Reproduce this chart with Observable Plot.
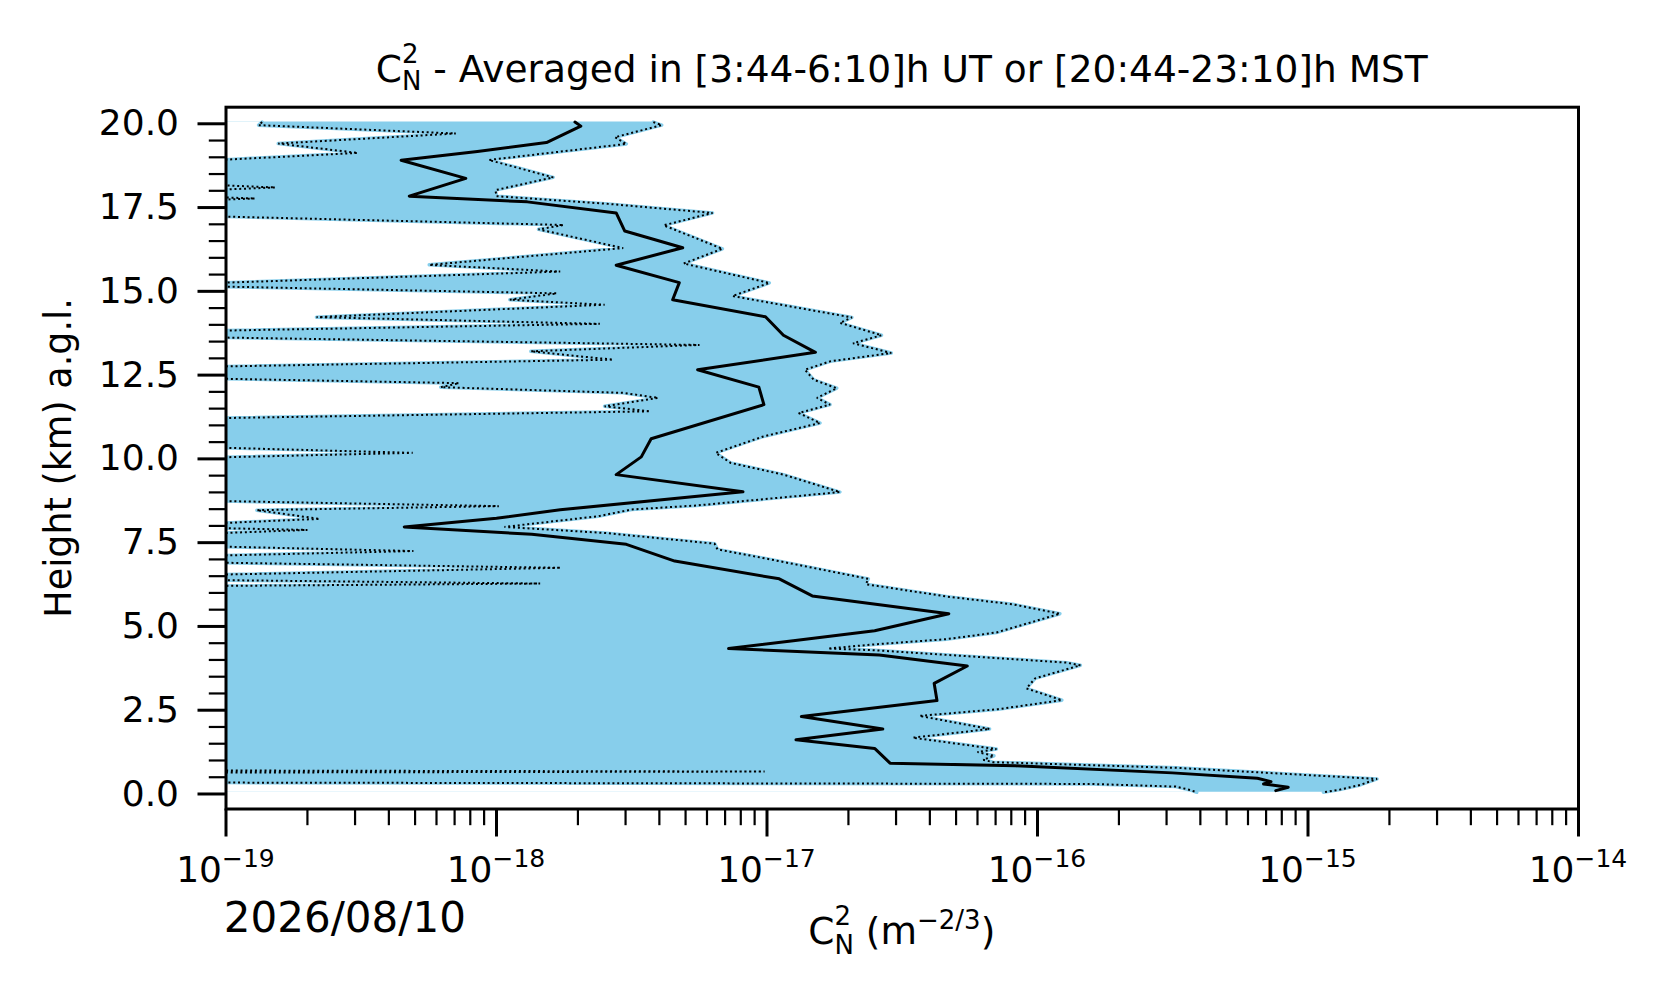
<!DOCTYPE html>
<html><head><meta charset="utf-8">
<script src="https://cdn.jsdelivr.net/npm/d3@7"></script>
<script src="https://cdn.jsdelivr.net/npm/@observablehq/plot@0.6"></script>
<style>
body{margin:0;background:#fff}
#chart svg{display:block}
text{white-space:pre}
</style></head><body><div id="chart"></div>
<script>
// ---- data (height in km a.g.l., Cn2 in m^-2/3) ----
const meanH = [20.05,19.93,19.44,19.17,18.91,18.37,17.84,17.67,17.34,16.80,16.30,15.78,15.26,14.75,14.24,13.69,13.18,12.66,12.14,11.62,10.60,10.06,9.53,9.02,8.48,8.23,7.97,7.75,7.45,6.95,6.42,5.91,5.38,4.87,4.57,4.34,4.15,3.82,3.30,2.79,2.31,1.94,1.62,1.36,0.92,0.84,0.63,0.47,0.37,0.30,0.20,0.10];
const meanV = [1.95e-18,2.05e-18,1.53e-18,8.5e-19,4.44e-19,7.7e-19,4.76e-19,1.3e-18,2.77e-18,2.98e-18,4.88e-18,2.77e-18,4.74e-18,4.48e-18,9.87e-18,1.15e-17,1.51e-17,5.54e-18,9.33e-18,9.74e-18,3.73e-18,3.43e-18,2.77e-18,8.15e-18,1.72e-18,1.0e-18,4.56e-19,1.35e-18,3.02e-18,4.56e-18,1.11e-17,1.47e-17,4.7e-17,2.5e-17,1.25e-17,7.21e-18,2.6e-17,5.5e-17,4.15e-17,4.25e-17,1.34e-17,2.68e-17,1.28e-17,2.50e-17,2.85e-17,8.3e-17,3.15e-16,6.5e-16,7.3e-16,6.85e-16,8.45e-16,7.6e-16];

const upperH = [20.05,19.96,19.60,19.40,18.92,18.40,18.02,17.84,17.61,17.34,16.97,16.27,15.83,15.25,14.86,14.22,14.06,13.69,13.45,13.16,12.91,12.66,12.36,12.11,11.82,11.62,11.37,11.07,10.67,10.18,9.88,9.53,9.01,8.61,8.49,8.29,7.97,7.79,7.47,7.30,7.00,6.42,6.26,5.89,5.66,5.38,5.11,4.82,4.62,4.47,4.34,4.29,3.92,3.84,3.45,3.15,2.80,2.53,2.33,1.94,1.68,1.34,1.25,1.14,1.02,0.95,0.87,0.78,0.45,0.27,0.13,0.05];
const upperV = [3.8e-18,4.08e-18,2.74e-18,3.02e-18,9.37e-19,1.62e-18,9.91e-19,1.0e-18,2.59e-18,6.29e-18,4.15e-18,6.84e-18,4.92e-18,1.02e-17,7.45e-18,2.06e-17,1.86e-17,2.65e-17,2.08e-17,2.88e-17,1.71e-17,1.38e-17,1.49e-17,1.81e-17,1.53e-17,1.71e-17,1.31e-17,1.57e-17,9.7e-18,6.46e-18,7.34e-18,1.15e-17,1.86e-17,5.5e-18,3.16e-18,2.38e-18,1.07e-18,2.51e-18,6.4e-18,6.56e-18,1.03e-17,2.37e-17,2.32e-17,4.65e-17,8.1e-17,1.21e-16,9.35e-17,7.05e-17,4.6e-17,2.54e-17,1.68e-17,2.5e-17,1.28e-16,1.44e-16,9.8e-17,9.1e-17,1.23e-16,7.15e-17,3.66e-17,6.65e-17,3.46e-17,7.05e-17,6.0e-17,6.9e-17,6.3e-17,6.85e-17,1.44e-16,3.27e-16,1.80e-15,1.56e-15,1.31e-15,1.14e-15];

// lower bound; values at or below the axis minimum are recorded as 1e-19
const lowerH = [20.05,19.96,19.71,19.41,19.13,18.93,18.16,18.10,18.04,17.80,17.77,17.74,17.23,16.98,16.85,16.29,15.79,15.59,15.26,15.14,14.94,14.75,14.60,14.23,14.03,13.83,13.62,13.40,13.21,12.96,12.76,12.39,12.26,12.14,11.97,11.82,11.57,11.42,11.22,10.33,10.18,10.05,8.74,8.59,8.47,8.21,8.09,7.93,7.88,7.79,7.38,7.25,7.12,6.90,6.75,6.55,6.38,6.28,6.21,0.70,0.67,0.64,0.34,0.30,0.22,0.12,0.05];
const lowerV = [1.36e-19,1.32e-19,7.07e-19,1.56e-19,3.07e-19,1e-19,1e-19,1.52e-19,1e-19,1e-19,1.28e-19,1e-19,1e-19,1.77e-18,1.43e-18,2.94e-18,5.64e-19,1.72e-18,1e-19,1e-19,1.67e-18,1.12e-18,2.51e-18,2.16e-19,2.41e-18,1e-19,1e-19,5.63e-18,1.34e-18,2.70e-18,1e-19,1e-19,7.27e-19,6.22e-19,2.94e-18,3.96e-18,2.51e-18,3.70e-18,1e-19,1e-19,4.9e-19,1e-19,1e-19,1.02e-18,1.30e-19,2.22e-19,1e-19,1e-19,2.0e-19,1e-19,1e-19,4.93e-19,1e-19,1e-19,1.73e-18,1e-19,1e-19,1.45e-18,1e-19,1e-19,9.8e-18,1e-19,1e-19,1.57e-16,3.25e-16,3.67e-16,3.88e-16];

const xMajorTicks = [1e-19,1e-18,1e-17,1e-16,1e-15,1e-14];
const xTickExponents = ["−19","−18","−17","−16","−15","−14"];
const xMinorDecades = [1e-19,1e-18,1e-17,1e-16,1e-15];
const xMinorMultipliers = [2,3,4,5,6,7,8,9];
const yMajorTicks = [0,2.5,5,7.5,10,12.5,15,17.5,20];
const yMinorTicks = [0.5,1,1.5,2,3,3.5,4,4.5,5.5,6,6.5,7,8,8.5,9,9.5,10.5,11,11.5,12,13,13.5,14,14.5,15.5,16,16.5,17,18,18.5,19,19.5];

const titleText = " - Averaged in [3:44-6:10]h UT or [20:44-23:10]h MST";
const yLabelText = "Height (km) a.g.l.";
const dateText = "2026/08/10";

// ---- build tables ----
const mean = meanH.map((h, i) => ({h, v: meanV[i]}));
const upper = upperH.map((h, i) => ({h, v: upperV[i]}));
const lower = lowerH.map((h, i) => ({h, v: lowerV[i]}));
const xMinorTicks = xMinorDecades.flatMap(d => xMinorMultipliers.map(m => d * m));
const FLOOR = 1e-19;
const FONT = "DejaVu Sans";
const SKY = "#87ceeb";
const ML = 225.5, MR = 98, MT = 106.7, MB = 194.5;
const CX = (ML + 1676 - MR) / 2;

const chart = Plot.plot({
  width: 1676, height: 1003,
  marginLeft: ML, marginRight: MR, marginTop: MT, marginBottom: MB,
  style: {fontFamily: FONT, background: "white", color: "black", overflow: "visible"},
  x: {type: "log", domain: [1e-19, 1e-14]},
  y: {domain: [-0.448, 20.495]},
  marks: [
    Plot.areaX(upper, {y: "h", x1: () => FLOOR, x2: "v", fill: SKY, clip: true}),
    Plot.areaX(lower, {y: "h", x1: () => FLOOR, x2: "v", fill: "white", clip: true}),
    Plot.lineX(upper, {x: "v", y: "h", stroke: SKY, strokeWidth: 3.5, clip: true}),
    Plot.lineX(lower, {x: "v", y: "h", stroke: SKY, strokeWidth: 3.5, clip: true}),
    Plot.lineX(upper, {x: "v", y: "h", stroke: "black", strokeWidth: 2, strokeDasharray: "2 2.8", strokeLinecap: "butt", strokeLinejoin: "miter", clip: true}),
    Plot.lineX(lower, {x: "v", y: "h", stroke: "black", strokeWidth: 2, strokeDasharray: "2 2.8", strokeLinecap: "butt", strokeLinejoin: "miter", clip: true}),
    Plot.lineX(mean, {x: "v", y: "h", stroke: "black", strokeWidth: 3, clip: true}),
    Plot.frame({stroke: "black", strokeWidth: 3}),
    Plot.axisX({ticks: xMinorTicks, tickSize: 16.7, strokeWidth: 2.2, tickFormat: () => "", label: null}),
    Plot.axisX({ticks: xMajorTicks, tickSize: 28, strokeWidth: 3, tickFormat: () => "", label: null}),
    Plot.axisY({ticks: yMinorTicks, tickSize: 16.7, strokeWidth: 2.2, tickFormat: () => "", label: null}),
    Plot.axisY({ticks: yMajorTicks, tickSize: 28, strokeWidth: 3, tickPadding: 19, fontSize: 36, tickFormat: d3.format(".1f"), label: null})
  ]
});
document.getElementById("chart").appendChild(chart);

// ---- text: title, tick labels with exponents, axis labels, date ----
const svg = d3.select(chart);
const xs = chart.scale("x");
const layer = svg.append("g").attr("font-family", FONT).attr("fill", "black");

xMajorTicks.forEach((v, i) => {
  const t = layer.append("text").attr("x", xs.apply(v)).attr("y", 881.7)
    .attr("text-anchor", "middle").attr("font-size", 36);
  t.append("tspan").text("10");
  t.append("tspan").attr("dy", -14.4).attr("font-size", 25).text(xTickExponents[i]);
});

const title = layer.append("text").attr("x", CX).attr("y", 81.7)
  .attr("text-anchor", "middle").attr("font-size", 37.5);
title.append("tspan").text("C");
title.append("tspan").attr("dy", -18.8).attr("font-size", 26).text("2");
title.append("tspan").attr("dx", -16.5).attr("dy", 27.3).attr("font-size", 26).text("N");
title.append("tspan").attr("dy", -8.5).text(titleText);

const xl = layer.append("text").attr("x", CX).attr("y", 944)
  .attr("text-anchor", "middle").attr("font-size", 37.5);
xl.append("tspan").text("C");
xl.append("tspan").attr("dy", -18.8).attr("font-size", 26).text("2");
xl.append("tspan").attr("dx", -16.5).attr("dy", 28.8).attr("font-size", 26).text("N");
xl.append("tspan").attr("dy", -10).text(" (m");
xl.append("tspan").attr("dy", -15).attr("font-size", 26).text("−2/3");
xl.append("tspan").attr("dy", 15).text(")");

layer.append("text").attr("transform", "translate(71,458) rotate(-90)")
  .attr("text-anchor", "middle").attr("font-size", 36.5).text(yLabelText);

layer.append("text").attr("x", 223.8).attr("y", 931.7)
  .attr("text-anchor", "start").attr("font-size", 42).text(dateText);
</script></body></html>
